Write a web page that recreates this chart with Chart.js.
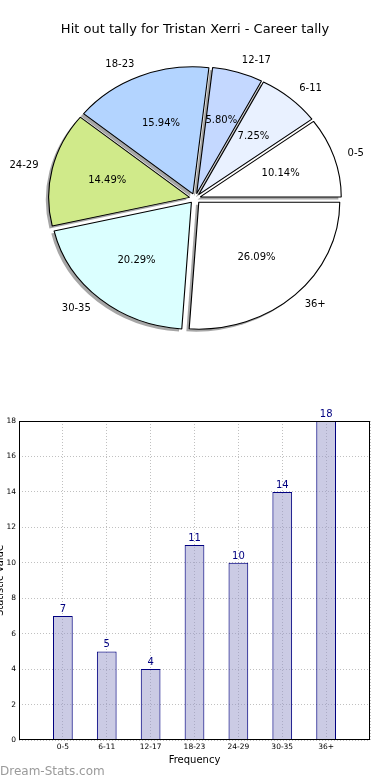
<!DOCTYPE html>
<html>
<head>
<meta charset="utf-8">
<script src="https://cdn.jsdelivr.net/npm/chart.js@4/dist/chart.umd.min.js"></script>
<style>
  html, body { margin: 0; padding: 0; background: #ffffff; }
  #wrap { position: relative; width: 390px; height: 780px; overflow: hidden; }
  #pie { position: absolute; left: 0; top: 0; }
  #bar { position: absolute; left: 0; top: 380px; }
</style>
</head>
<body>
<div id="wrap">
  <canvas id="pie" width="390" height="370"></canvas>
  <canvas id="bar" width="390" height="400"></canvas>
</div>
<script>
// ---- data ----
const categories = ['0-5', '6-11', '12-17', '18-23', '24-29', '30-35', '36+'];
const counts = [7, 5, 4, 11, 10, 14, 18];
const sliceColors = ['#ffffff', '#e9f1ff', '#c4d8ff', '#b3d4ff', '#d0ea8a', '#dbffff', '#ffffff'];
const yTickMax = 18;
const yTickStep = 2;
const pieTitle = 'Hit out tally for Tristan Xerri - Career tally';
const xTitle = 'Frequency';
const yTitle = 'Statistic Value';
const watermark = 'Dream-Stats.com';

const FONT = '"DejaVu Sans", "Liberation Sans", sans-serif';
const total = counts.reduce((a, b) => a + b, 0);

// pie drawn clockwise from east in Chart.js => reverse order to mimic counter-clockwise layout
const pieLabels = categories.slice().reverse();
const pieValues = counts.slice().reverse();
const pieColors = sliceColors.slice().reverse();

const SX = 1.11;   // horizontal stretch of the pie (elliptical like the reference)
const EXPL = 5;    // explode distance

function placeArc(ctx, el, dx, dy) {
  const mid = (el.startAngle + el.endAngle) / 2;
  ctx.translate(el.x + dx, el.y + dy);
  ctx.scale(SX, 1);
  ctx.translate(Math.cos(mid) * EXPL - el.x, Math.sin(mid) * EXPL - el.y);
}

const piePlugin = {
  id: 'piePlugin',
  beforeDatasetsDraw(chart) {
    const ctx = chart.ctx;
    const arcs = chart.getDatasetMeta(0).data;
    arcs.forEach(el => {
      ctx.save();
      placeArc(ctx, el, -2.8, 2.5);
      const ghost = Object.create(el);
      ghost.options = Object.assign({}, el.options, {
        backgroundColor: 'rgba(77,77,77,0.5)',
        borderColor: 'rgba(77,77,77,0.0)'
      });
      ghost.draw(ctx);
      ctx.restore();
    });
    arcs.forEach(el => {
      ctx.save();
      placeArc(ctx, el, 0, 0);
      el.draw(ctx);
      ctx.restore();
    });
    return false;
  },
  afterDraw(chart) {
    const ctx = chart.ctx;
    const arcs = chart.getDatasetMeta(0).data;
    ctx.save();
    ctx.font = '10px ' + FONT;
    ctx.fillStyle = '#000';
    ctx.textBaseline = 'middle';
    arcs.forEach((el, i) => {
      const mid = (el.startAngle + el.endAngle) / 2;
      const ux = Math.cos(mid), uy = Math.sin(mid);
      const r = el.outerRadius;
      const pct = (pieValues[i] / total * 100).toFixed(2) + '%';
      ctx.textAlign = 'center';
      ctx.fillText(pct, el.x + SX * ux * (EXPL + 0.6 * r), el.y + uy * (EXPL + 0.6 * r));
      ctx.textAlign = ux > 0 ? 'left' : 'right';
      ctx.fillText(pieLabels[i], el.x + SX * ux * (EXPL + 1.1 * r), el.y + uy * (EXPL + 1.1 * r));
    });
    ctx.restore();
  }
};

new Chart(document.getElementById('pie'), {
  type: 'pie',
  data: {
    labels: pieLabels,
    datasets: [{
      data: pieValues,
      backgroundColor: pieColors,
      borderColor: '#000000',
      borderWidth: 1
    }]
  },
  options: {
    responsive: false,
    animation: false,
    radius: 127,
    rotation: 90,
    layout: { padding: { top: 0, bottom: 10.6, left: 0, right: 0 } },
    plugins: {
      legend: { display: false },
      tooltip: { enabled: false },
      title: {
        display: true,
        text: pieTitle,
        color: '#000',
        font: { size: 13, family: FONT, weight: 'normal' },
        padding: { top: 22, bottom: 0 }
      }
    }
  },
  plugins: [piePlugin]
});

// ---- bar chart ----
const gridColor = 'rgba(140,140,140,0.55)';

const barPlugin = {
  id: 'barPlugin',
  afterDraw(chart) {
    const ctx = chart.ctx;
    const a = chart.chartArea;
    ctx.save();
    // frame
    ctx.strokeStyle = '#000';
    ctx.lineWidth = 1;
    ctx.strokeRect(a.left + 0.5, a.top + 0.5, a.right - a.left - 1, a.bottom - a.top - 1);
    // value labels
    const bars = chart.getDatasetMeta(0).data;
    ctx.fillStyle = '#000080';
    ctx.font = '10px ' + FONT;
    ctx.textAlign = 'center';
    ctx.textBaseline = 'alphabetic';
    bars.forEach((b, i) => {
      ctx.fillText(String(counts[i]), b.x, b.y - 4);
    });
    // y axis title (clipped at left edge, as in reference)
    ctx.save();
    ctx.fillStyle = '#000';
    ctx.font = '10px ' + FONT;
    ctx.translate(2.5, (a.top + a.bottom) / 2);
    ctx.rotate(-Math.PI / 2);
    ctx.textAlign = 'center';
    ctx.textBaseline = 'alphabetic';
    ctx.fillText(yTitle, 0, 0);
    ctx.restore();
    // watermark
    ctx.fillStyle = '#9a9a9a';
    ctx.font = '12px ' + FONT;
    ctx.textAlign = 'left';
    ctx.textBaseline = 'alphabetic';
    ctx.fillText(watermark, 0, 394.5);
    ctx.restore();
  }
};

new Chart(document.getElementById('bar'), {
  type: 'bar',
  data: {
    datasets: [{
      data: counts.map((v, i) => ({ x: i, y: v })),
      backgroundColor: 'rgba(151,151,201,0.5)',
      borderColor: '#000080',
      borderWidth: 1,
      categoryPercentage: 1,
      barPercentage: 0.45
    }]
  },
  options: {
    responsive: false,
    animation: false,
    layout: { padding: { top: 41, right: 20, bottom: 0, left: 0 } },
    plugins: { legend: { display: false }, tooltip: { enabled: false } },
    scales: {
      x: {
        type: 'linear',
        min: -1,
        max: categories.length,
        offset: false,
        afterFit: s => { s.height = 40; },
        ticks: {
          stepSize: 1,
          autoSkip: false,
          maxRotation: 0,
          padding: 3,
          color: '#000',
          font: { size: 7.5, family: FONT },
          callback: v => (categories[v] !== undefined ? categories[v] : '')
        },
        grid: { color: gridColor, drawTicks: false, lineWidth: 1, offset: false },
        border: { display: false, dash: [1, 2] },
        title: {
          display: true,
          text: xTitle,
          color: '#000',
          font: { size: 10, family: FONT },
          padding: { top: 0, bottom: 14 }
        }
      },
      y: {
        min: 0,
        max: yTickMax,
        afterFit: s => { s.width = 19; },
        ticks: {
          stepSize: yTickStep,
          padding: 3,
          color: '#000',
          font: { size: 7.5, family: FONT }
        },
        grid: { color: gridColor, drawTicks: false, lineWidth: 1 },
        border: { display: false, dash: [1, 2] }
      }
    }
  },
  plugins: [barPlugin]
});
</script>
</body>
</html>
